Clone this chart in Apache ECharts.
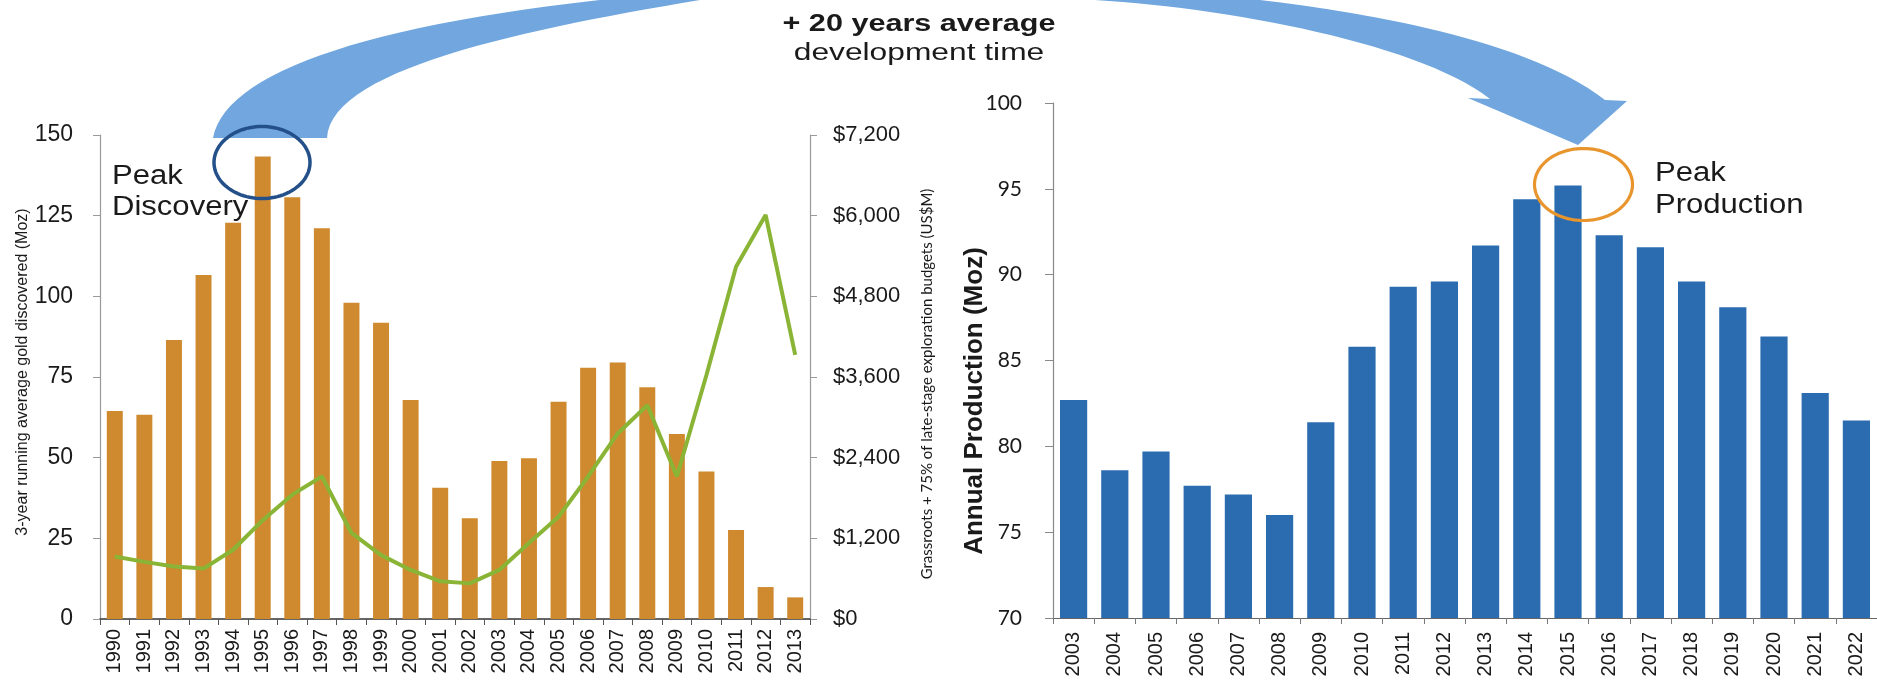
<!DOCTYPE html>
<html>
<head>
<meta charset="utf-8">
<script src="https://cdn.jsdelivr.net/npm/echarts@6/dist/echarts.min.js"></script>
<style>
  html, body { margin: 0; padding: 0; background: #ffffff; }
  #chart { width: 1877px; height: 682px; }
</style>
</head>
<body>
<div id="chart"></div>
<script>
// Gold discovery (3-yr running average, Moz) and exploration budgets (US$M), 1990-2013
const discoveryYears = ['1990','1991','1992','1993','1994','1995','1996','1997','1998','1999','2000','2001',
                        '2002','2003','2004','2005','2006','2007','2008','2009','2010','2011','2012','2013'];
const discoveredMoz = [64.5, 63.3, 86.5, 106.6, 122.8, 143.3, 130.7, 121.1, 98.0, 91.8, 67.9, 40.7,
                       31.2, 49.0, 49.8, 67.3, 77.9, 79.5, 71.8, 57.3, 45.7, 27.6, 9.9, 6.7];
const budgetUSDm = [930, 850, 780, 750, 1030, 1470, 1850, 2120, 1280, 950, 730, 560,
                    530, 730, 1130, 1520, 2120, 2760, 3180, 2120, 3630, 5240, 6010, 3930];

// Annual gold production (Moz), 2003-2022
const productionYears = ['2003','2004','2005','2006','2007','2008','2009','2010','2011','2012',
                         '2013','2014','2015','2016','2017','2018','2019','2020','2021','2022'];
const productionMoz = [82.7, 78.6, 79.7, 77.7, 77.2, 76.0, 81.4, 85.8, 89.3, 89.6,
                       91.7, 94.4, 95.2, 92.3, 91.6, 89.6, 88.1, 86.4, 83.1, 81.5];

// Axis ranges
const discoveryAxis = { min: 0, max: 150, interval: 25 };
const budgetAxis = { min: 0, max: 7200, interval: 1200 };
const productionAxis = { min: 70, max: 100, interval: 5 };

const ORANGE = '#cf8a2f';
const GREEN = '#8ab436';
const BLUE = '#2b6cb0';
const ARROW = '#71a7de';
const SANS = '"Liberation Sans", Arial, sans-serif';

// Sample a cubic Bezier into points
function cubic(p0, p1, p2, p3, n) {
  const pts = [];
  for (let i = 0; i <= n; i++) {
    const t = i / n, u = 1 - t;
    pts.push([
      u*u*u*p0[0] + 3*u*u*t*p1[0] + 3*u*t*t*p2[0] + t*t*t*p3[0],
      u*u*u*p0[1] + 3*u*u*t*p1[1] + 3*u*t*t*p2[1] + t*t*t*p3[1]
    ]);
  }
  return pts;
}

// Curved arrow from discovery peak to production peak
function arrowPoints() {
  let pts = [];
  pts = pts.concat(cubic([213,138],[225,70],[380,20],[650,-5], 30));
  pts = pts.concat(cubic([650,-5],[900,-35],[1150,-25],[1260,0], 30));
  pts = pts.concat(cubic([1260,0],[1360,12],[1525,38],[1605,100], 30));
  pts.push([1627,101],[1578,145],[1468,98],[1490,99]);
  pts = pts.concat(cubic([1490,99],[1420,44],[1230,8],[1095,0], 30));
  pts = pts.concat(cubic([1095,0],[950,-20],[820,-15],[700,0], 30));
  pts = pts.concat(cubic([700,0],[520,30],[330,70],[327,138], 30));
  return pts;
}

function ellipsePoints(cx, cy, rx, ry) {
  const pts = [];
  for (let i = 0; i < 96; i++) {
    const a = i / 96 * Math.PI * 2;
    pts.push([cx + rx * Math.cos(a), cy + ry * Math.sin(a)]);
  }
  return pts;
}

const chart = echarts.init(document.getElementById('chart'), null, { renderer: 'canvas' });

const tickLabel = { color: '#1a1a1a', fontFamily: SANS };

const option = {
  backgroundColor: '#ffffff',
  animation: false,
  grid: [
    { left: 100, top: 135, width: 710, height: 484 },
    { left: 1053, top: 103, width: 824, height: 515 }
  ],
  xAxis: [
    {
      type: 'category', gridIndex: 0, data: discoveryYears, boundaryGap: true,
      axisLine: { lineStyle: { color: '#333333', width: 1.5 } },
      axisTick: { show: true, length: 6, interval: 0, lineStyle: { color: '#555555' } },
      axisLabel: Object.assign({ rotate: 90, fontSize: 20, margin: 10, interval: 0 }, tickLabel)
    },
    {
      type: 'category', gridIndex: 1, data: productionYears, boundaryGap: true,
      axisLine: { lineStyle: { color: '#666666', width: 1.2 } },
      axisTick: { show: true, length: 6, interval: 0, lineStyle: { color: '#777777' } },
      axisLabel: Object.assign({ rotate: 90, fontSize: 20, margin: 14, interval: 0 }, tickLabel)
    }
  ],
  yAxis: [
    {
      type: 'value', gridIndex: 0, position: 'left',
      min: discoveryAxis.min, max: discoveryAxis.max, interval: discoveryAxis.interval,
      splitLine: { show: false },
      axisLine: { show: true, lineStyle: { color: '#999999', width: 1.2 } },
      axisTick: { show: true, length: 7, lineStyle: { color: '#999999' } },
      axisLabel: Object.assign({ fontSize: 23, margin: 27 }, tickLabel)
    },
    {
      type: 'value', gridIndex: 0, position: 'right',
      min: budgetAxis.min, max: budgetAxis.max, interval: budgetAxis.interval,
      splitLine: { show: false },
      axisLine: { show: true, lineStyle: { color: '#999999', width: 1.2 } },
      axisTick: { show: true, length: 7, lineStyle: { color: '#999999' } },
      axisLabel: Object.assign({
        fontSize: 22, margin: 23,
        formatter: v => '$' + v.toLocaleString('en-US')
      }, tickLabel)
    },
    {
      type: 'value', gridIndex: 1, position: 'left',
      min: productionAxis.min, max: productionAxis.max, interval: productionAxis.interval,
      splitLine: { show: false },
      axisLine: { show: true, lineStyle: { color: '#888888', width: 1.2 } },
      axisTick: { show: true, length: 8, lineStyle: { color: '#888888' } },
      axisLabel: { fontSize: 21, margin: 31, color: '#1a1a1a', fontFamily: 'Lato, sans-serif' }
    }
  ],
  series: [
    {
      name: 'Gold discovered', type: 'bar', xAxisIndex: 0, yAxisIndex: 0,
      data: discoveredMoz, barWidth: '54%',
      itemStyle: { color: ORANGE }, z: 2
    },
    {
      name: 'Exploration budgets', type: 'line', xAxisIndex: 0, yAxisIndex: 1,
      data: budgetUSDm, showSymbol: false, symbol: 'none', smooth: false,
      lineStyle: { color: GREEN, width: 4 }, z: 5
    },
    {
      name: 'Annual production', type: 'bar', xAxisIndex: 1, yAxisIndex: 2,
      data: productionMoz, barWidth: '66%',
      itemStyle: { color: BLUE }, z: 2
    }
  ],
  graphic: [
    {
      type: 'polygon', z: 0, silent: true,
      shape: { points: arrowPoints() },
      style: { fill: ARROW }
    },
    {
      type: 'polygon', z: 100, silent: true,
      shape: { points: ellipsePoints(262, 162.5, 48, 36) },
      style: { fill: 'transparent', stroke: '#24508a', lineWidth: 3.5 }
    },
    {
      type: 'polygon', z: 100, silent: true,
      shape: { points: ellipsePoints(1583.5, 184.5, 49, 36) },
      style: { fill: 'transparent', stroke: '#e8952e', lineWidth: 3.2 }
    },
    {
      type: 'text', x: 919, y: 25, scaleX: 1.33, z: 100,
      style: { text: '+ 20 years average', fontSize: 23, fontWeight: 'bold', fontFamily: SANS,
               fill: '#1a1a1a', align: 'center', verticalAlign: 'middle' }
    },
    {
      type: 'text', x: 919, y: 54, scaleX: 1.38, z: 100,
      style: { text: 'development time', fontSize: 23, fontFamily: SANS,
               fill: '#1a1a1a', align: 'center', verticalAlign: 'middle' }
    },
    {
      type: 'text', x: 112, y: 177, scaleX: 1.15, z: 100,
      style: { text: 'Peak', fontSize: 27, fontFamily: SANS, fill: '#1a1a1a',
               align: 'left', verticalAlign: 'middle' }
    },
    {
      type: 'text', x: 112, y: 208, scaleX: 1.15, z: 100,
      style: { text: 'Discovery', fontSize: 27, fontFamily: SANS, fill: '#1a1a1a',
               align: 'left', verticalAlign: 'middle' }
    },
    {
      type: 'text', x: 1655, y: 174, scaleX: 1.15, z: 100,
      style: { text: 'Peak', fontSize: 27, fontFamily: SANS, fill: '#1a1a1a',
               align: 'left', verticalAlign: 'middle' }
    },
    {
      type: 'text', x: 1655, y: 206, scaleX: 1.15, z: 100,
      style: { text: 'Production', fontSize: 27, fontFamily: SANS, fill: '#1a1a1a',
               align: 'left', verticalAlign: 'middle' }
    },
    {
      type: 'text', x: 23, y: 372, rotation: Math.PI / 2, z: 100,
      style: { text: '3-year running average gold discovered (Moz)', fontSize: 16, fontFamily: SANS,
               fill: '#1a1a1a', align: 'center', verticalAlign: 'middle' }
    },
    {
      type: 'text', x: 927, y: 384, rotation: Math.PI / 2, z: 100,
      style: { text: 'Grassroots + 75% of late-stage exploration budgets (US$M)', fontSize: 15,
               fontFamily: 'Lato, sans-serif', fill: '#1a1a1a', align: 'center', verticalAlign: 'middle' }
    },
    {
      type: 'text', x: 975, y: 401, rotation: Math.PI / 2, z: 100,
      style: { text: 'Annual Production (Moz)', fontSize: 26, fontWeight: 'bold', fontFamily: SANS,
               fill: '#1a1a1a', align: 'center', verticalAlign: 'middle' }
    }
  ]
};

chart.setOption(option);
</script>
</body>
</html>
